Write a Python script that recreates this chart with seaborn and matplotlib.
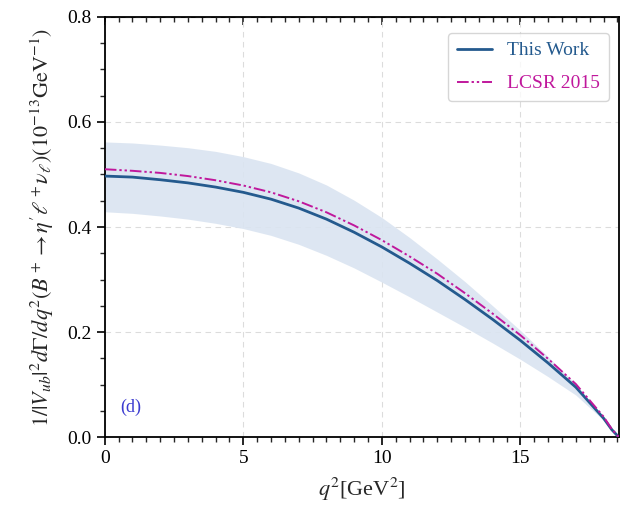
import numpy as np
import pandas as pd
import matplotlib
matplotlib.use("Agg")
import matplotlib.pyplot as plt
import seaborn as sns
from matplotlib.ticker import MultipleLocator

# ---- data ----
q2 = [0, 1, 2, 3, 4, 5, 6, 7, 8, 9, 10, 11, 12, 13, 14, 15, 16, 17, 18, 18.3, 18.55]
this_work = [0.497, 0.495, 0.490, 0.484, 0.476, 0.466, 0.453, 0.436, 0.415, 0.390, 0.362,
             0.331, 0.298, 0.262, 0.224, 0.184, 0.141, 0.095, 0.036, 0.014, 0.0]
lcsr_2015 = [0.510, 0.507, 0.503, 0.497, 0.489, 0.479, 0.466, 0.449, 0.428, 0.403, 0.375,
             0.344, 0.311, 0.274, 0.235, 0.194, 0.149, 0.101, 0.039, 0.015, 0.0]
band_upper = [0.562, 0.560, 0.556, 0.551, 0.544, 0.534, 0.521, 0.503, 0.480, 0.451, 0.418,
              0.380, 0.339, 0.296, 0.250, 0.203, 0.153, 0.101, 0.038, 0.015, 0.0]
band_lower = [0.429, 0.426, 0.421, 0.415, 0.407, 0.397, 0.384, 0.367, 0.346, 0.322, 0.295,
              0.267, 0.238, 0.209, 0.179, 0.148, 0.115, 0.080, 0.032, 0.013, 0.0]
series_names = ["This Work", "LCSR 2015"]
xticks = [0, 5, 10, 15]
yticks = [0.0, 0.2, 0.4, 0.6, 0.8]

sns.set_style("ticks")
plt.rcParams["font.family"] = ["Liberation Serif", "DejaVu Serif"]
plt.rcParams["mathtext.fontset"] = "stix"

fig = plt.figure(figsize=(6.2, 5.13), dpi=100)
ax = fig.add_axes([0.169, 0.148, 0.829, 0.819])

df = pd.DataFrame({"q2": q2 + q2,
                   "val": this_work + lcsr_2015,
                   "series": [series_names[0]] * len(q2) + [series_names[1]] * len(q2)})

ax.fill_between(q2, band_lower, band_upper, color="#dae4f1", alpha=0.9, lw=0, zorder=1)

colors = {"This Work": "#245a8e", "LCSR 2015": "#c0189c"}
sns.lineplot(data=df[df.series == "This Work"], x="q2", y="val", ax=ax,
             color=colors["This Work"], lw=2.0, label="This Work", zorder=3)
sns.lineplot(data=df[df.series == "LCSR 2015"], x="q2", y="val", ax=ax,
             color=colors["LCSR 2015"], lw=1.4, label="LCSR 2015", zorder=4)
ax.lines[-1].set_dashes([6, 1.5, 1.2, 1.5, 1.2, 1.5])

ax.set_xlim(0, 18.55)
ax.set_ylim(0, 0.8)
ax.set_xticks(xticks)
ax.set_yticks(yticks)
ax.xaxis.set_minor_locator(MultipleLocator(0.5))
ax.yaxis.set_minor_locator(MultipleLocator(0.05))
ax.grid(True, which="major", ls=(0, (5, 4)), color="#dcdcdc", lw=0.8)
ax.tick_params(axis="both", which="major", direction="out", length=6, width=1.2, labelsize=14, colors="black")
ax.tick_params(axis="both", which="minor", direction="out", length=3.5, width=1.0)
for s in ax.spines.values():
    s.set_linewidth(1.3)
    s.set_color("black")

sec = ax.secondary_xaxis("top")
sec.set_xticks(xticks)
sec.xaxis.set_minor_locator(MultipleLocator(0.5))
sec.tick_params(which="major", direction="in", length=6, width=1.2, labelsize=0)
sec.tick_params(which="minor", direction="in", length=3.5, width=1.0)
sec.set_xticklabels([])

ax.set_xlabel(r"$q^2$[GeV$^2$]", fontsize=16, labelpad=6)
ax.set_ylabel(r"$1/|V_{ub}|^2d\Gamma/dq^2(B^+\to\eta'\ell^+\nu_\ell)(10^{-13}\mathrm{GeV}^{-1})$",
              fontsize=16, labelpad=8)

ax.text(0.55, 0.048, "(d)", color="#3b3bd0", fontsize=13)

leg = ax.legend(loc="upper right", fontsize=14, frameon=True, fancybox=True,
                edgecolor="#cccccc", handlelength=1.8, borderpad=0.45,
                labelspacing=0.8, bbox_to_anchor=(1.0, 0.985))
for t, name in zip(leg.get_texts(), series_names):
    t.set_color(colors[name])

fig.savefig("out.png", dpi=100)
